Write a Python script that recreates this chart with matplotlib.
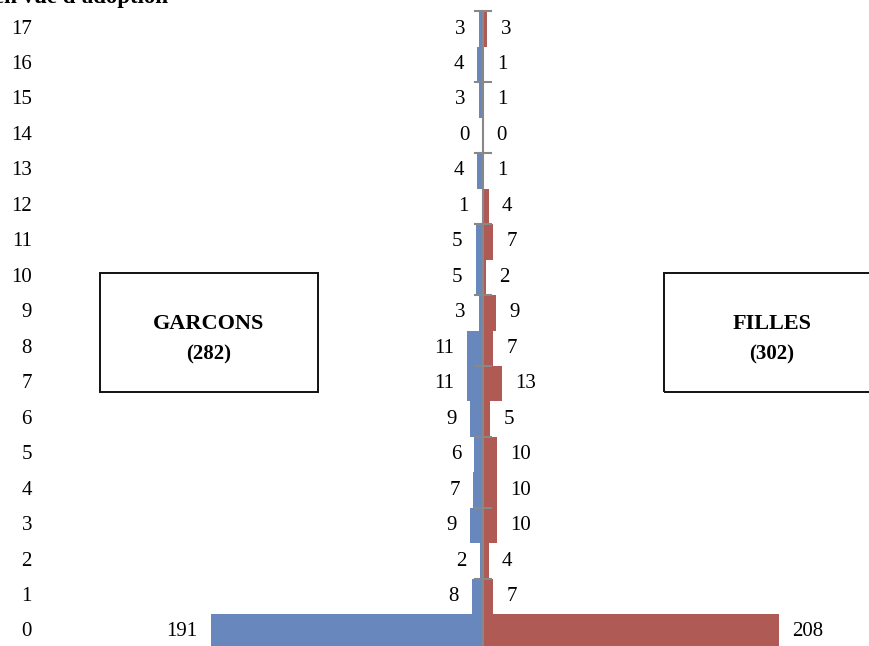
import matplotlib
matplotlib.use("Agg")
import matplotlib.pyplot as plt
from matplotlib.patches import Rectangle

ages = list(range(18))
boys = [191, 8, 2, 9, 7, 6, 9, 11, 11, 3, 5, 5, 1, 4, 0, 3, 4, 3]
girls = [208, 7, 4, 10, 10, 10, 5, 13, 7, 9, 2, 7, 4, 1, 0, 1, 1, 3]
title_text = "en vue d'adoption"
box_left = ["GARCONS", "(282)"]
box_right = ["FILLES", "(302)"]

W, H = 870, 646
DPI = 100
fig = plt.figure(figsize=(W / DPI, H / DPI), dpi=DPI)
ax = fig.add_axes([0, 0, 1, 1])

plt.rcParams['font.family'] = ['Liberation Serif', 'DejaVu Serif']
FONT = 'Liberation Serif'

blue = '#6787BD'
red = '#B05A55'

# scale: center at 483 px, 1.425 px per unit
cx = 483
ppu = 1.425
ax.set_xlim(-cx / ppu, (W - cx) / ppu)
row_px = 35.47
y0 = 14
ax.set_ylim(-y0 / row_px, (H - y0) / row_px)
ax.axis('off')

ax.barh(ages, [-b for b in boys], height=1.0, color=blue, linewidth=0)
ax.barh(ages, girls, height=1.0, color=red, linewidth=0)

# center axis line and ticks
ax.plot([0, 0], [-0.5, 17.5], color='#888888', lw=1.5, zorder=3)
for t in [1.5 + 2 * i for i in range(9)]:
    ax.plot([-5.5, 5.5], [t, t], color='#888888', lw=1.5, zorder=3)

fs = 15
for a, b, g in zip(ages, boys, girls):
    ax.annotate(str(b), xy=(-b, a), xytext=(-9.5, 0), textcoords='offset points',
                ha='right', va='center', fontsize=fs, fontfamily=FONT)
    ax.annotate(str(g), xy=(g, a), xytext=(9.5, 0), textcoords='offset points',
                ha='left', va='center', fontsize=fs, fontfamily=FONT)
    fig.text(32 / W, 1 - (29 + (17 - a) * row_px) / H, str(a),
             ha='right', va='center', fontsize=fs, fontfamily=FONT)

# title (partially cut at top, as in the reference)
fig.text(168 / W, 1 - 3 / H, title_text, ha='right', va='baseline',
         fontsize=16.5, fontweight='bold', fontfamily=FONT)

# boxes
for (x0, x1), lines in [((100, 318), box_left), ((664, 880), box_right)]:
    rect = Rectangle((x0 / W, 1 - 392 / H), (x1 - x0) / W, (392 - 273) / H,
                     transform=fig.transFigure, fill=False, edgecolor='#111111',
                     lw=1.4, clip_on=False)
    fig.patches.append(rect)
    xc = (x0 + x1) / 2 / W
    fig.text(xc, 1 - 324 / H, lines[0], ha='center', va='center', fontsize=16,
             fontweight='bold', fontfamily=FONT)
    fig.text(xc, 1 - 354 / H, lines[1], ha='center', va='center', fontsize=15,
             fontweight='bold', fontfamily=FONT)

fig.savefig('out.png', dpi=DPI)
